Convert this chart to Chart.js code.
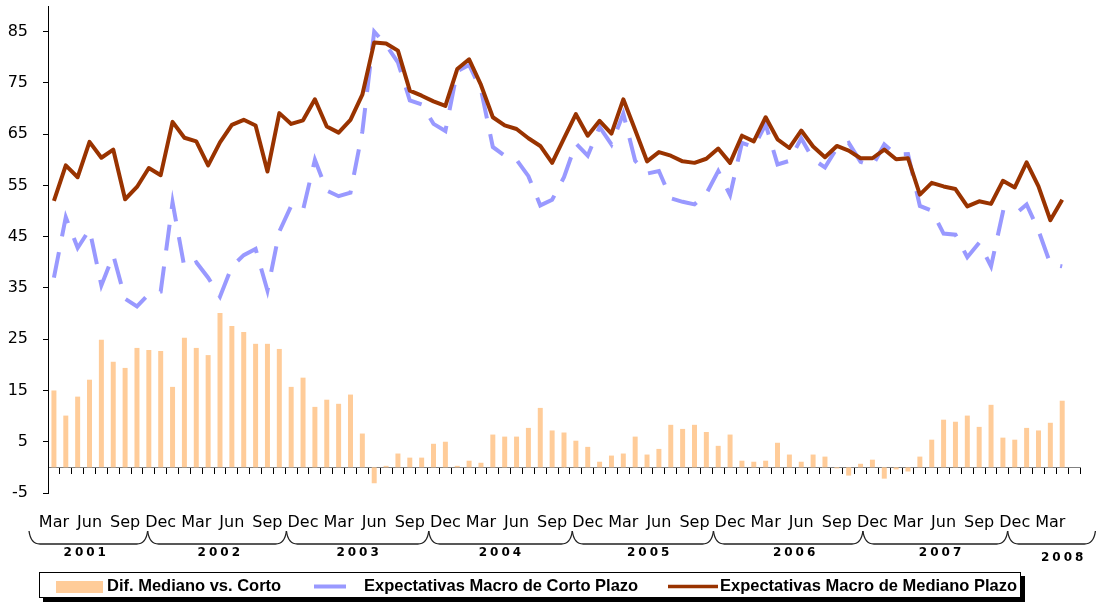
<!DOCTYPE html>
<html>
<head>
<meta charset="utf-8">
<script src="https://cdn.jsdelivr.net/npm/chart.js@4/dist/chart.umd.min.js"></script>
<style>
    html, body { margin: 0; padding: 0; background: #ffffff; }
    #wrap { width: 1096px; height: 603px; position: relative; }
</style>
</head>
<body>
<div id="wrap"><canvas id="myChart"></canvas></div>
<script>
const months = [
    'Mar 2001', 'Apr 2001', 'May 2001', 'Jun 2001', 'Jul 2001', 'Aug 2001', 'Sep 2001', 'Oct 2001', 'Nov 2001', 'Dec 2001',
    'Jan 2002', 'Feb 2002', 'Mar 2002', 'Apr 2002', 'May 2002', 'Jun 2002', 'Jul 2002', 'Aug 2002', 'Sep 2002', 'Oct 2002', 'Nov 2002', 'Dec 2002',
    'Jan 2003', 'Feb 2003', 'Mar 2003', 'Apr 2003', 'May 2003', 'Jun 2003', 'Jul 2003', 'Aug 2003', 'Sep 2003', 'Oct 2003', 'Nov 2003', 'Dec 2003',
    'Jan 2004', 'Feb 2004', 'Mar 2004', 'Apr 2004', 'May 2004', 'Jun 2004', 'Jul 2004', 'Aug 2004', 'Sep 2004', 'Oct 2004', 'Nov 2004', 'Dec 2004',
    'Jan 2005', 'Feb 2005', 'Mar 2005', 'Apr 2005', 'May 2005', 'Jun 2005', 'Jul 2005', 'Aug 2005', 'Sep 2005', 'Oct 2005', 'Nov 2005', 'Dec 2005',
    'Jan 2006', 'Feb 2006', 'Mar 2006', 'Apr 2006', 'May 2006', 'Jun 2006', 'Jul 2006', 'Aug 2006', 'Sep 2006', 'Oct 2006', 'Nov 2006', 'Dec 2006',
    'Jan 2007', 'Feb 2007', 'Mar 2007', 'Apr 2007', 'May 2007', 'Jun 2007', 'Jul 2007', 'Aug 2007', 'Sep 2007', 'Oct 2007', 'Nov 2007', 'Dec 2007',
    'Jan 2008', 'Feb 2008', 'Mar 2008', 'Apr 2008', 'May 2008'
];
// one label every third month
const tickLabels = [
    'Mar', 'Jun', 'Sep',
    'Dec', 'Mar', 'Jun', 'Sep',
    'Dec', 'Mar', 'Jun', 'Sep',
    'Dec', 'Mar', 'Jun', 'Sep',
    'Dec', 'Mar', 'Jun', 'Sep',
    'Dec', 'Mar', 'Jun', 'Sep',
    'Dec', 'Mar', 'Jun', 'Sep',
    'Dec', 'Mar'
];
const years = ['2001', '2002', '2003', '2004', '2005', '2006', '2007', '2008'];
const yTicks = [-5, 5, 15, 25, 35, 45, 55, 65, 75, 85];

const difMedianoCorto = [
    15.0, 10.1, 13.8, 17.1, 24.9, 20.6, 19.4, 23.3, 22.9, 22.7,
    15.7, 25.3, 23.3, 21.9, 30.1, 27.6, 26.4, 24.1, 24.1, 23.1,
    15.7, 17.5, 11.8, 13.2, 12.4, 14.2, 6.6, -3.1, 0.3, 2.7,
    1.9, 1.9, 4.6, 5.0, 0.3, 1.3, 0.9, 6.4, 6.0, 6.0,
    7.7, 11.6, 7.2, 6.8, 5.2, 4.0, 1.1, 2.3, 2.7, 6.0,
    2.5, 3.6, 8.3, 7.5, 8.3, 6.9, 4.2, 6.4, 1.3, 1.1,
    1.3, 4.8, 2.5, 1.1, 2.5, 2.1, -0.2, -1.6, 0.7, 1.5,
    -2.2, -0.4, -0.8, 2.1, 5.4, 9.3, 8.9, 10.1, 7.9, 12.2,
    5.8, 5.4, 7.7, 7.2, 8.7, 13.0
];
const cortoPlazo = [
    37.0, 48.8, 42.8, 46.4, 35.5, 41.4, 32.9, 31.4, 33.8, 34.3,
    51.7, 39.0, 40.0, 37.0, 33.3, 39.2, 41.4, 42.6, 34.5, 46.0,
    51.0, 50.2, 60.0, 54.0, 52.9, 53.6, 65.5, 85.0, 82.4, 79.0,
    71.6, 70.8, 67.0, 65.6, 77.3, 78.5, 73.7, 62.5, 60.8, 60.0,
    56.8, 51.1, 52.2, 56.6, 63.2, 60.8, 66.4, 63.0, 69.0, 59.8,
    57.3, 57.8, 52.5, 51.8, 51.3, 53.4, 57.8, 53.1, 63.3, 62.5,
    66.9, 59.1, 59.8, 64.2, 60.1, 58.5, 62.3, 63.3, 59.6, 58.8,
    63.0, 61.0, 61.1, 51.0, 50.1, 45.6, 45.4, 41.0, 43.8, 39.2,
    49.8, 49.3, 51.3, 46.2, 39.7, 39.2
];
const medianoPlazo = [
    52.0, 58.9, 56.6, 63.5, 60.4, 62.0, 52.3, 54.7, 58.4, 57.0,
    67.4, 64.3, 63.6, 58.9, 63.4, 66.8, 67.8, 66.7, 57.7, 69.1,
    67.0, 67.7, 71.8, 66.5, 65.3, 67.8, 72.7, 82.9, 82.7, 81.3,
    73.5, 72.5, 71.4, 70.5, 77.7, 79.6, 74.6, 68.3, 66.7, 66.0,
    64.2, 62.7, 59.4, 64.2, 68.9, 64.7, 67.6, 65.1, 71.8, 65.8,
    59.7, 61.5, 60.8, 59.7, 59.4, 60.2, 62.2, 59.4, 64.7, 63.6,
    68.3, 64.0, 62.3, 65.7, 62.6, 60.5, 62.7, 61.8, 60.3, 60.3,
    62.0, 60.1, 60.3, 53.2, 55.5, 54.8, 54.3, 50.9, 51.9, 51.4,
    55.9, 54.6, 59.5, 54.8, 48.2, 52.2
];

Chart.defaults.font.family = '"DejaVu Sans", sans-serif';
Chart.defaults.color = '#000000';

// year braces under the month labels
const yearBraces = {
    id: 'yearBraces',
    afterDraw(chart) {
        const ctx = chart.ctx;
        const xs = chart.scales.x;
        const edges = [-2.1, 7.9, 19.6, 31.6, 43.7, 55.6, 68.2, 80.4, 87.8];
        const centers = [2.6, 13.9, 25.6, 37.6, 50.1, 62.4, 74.7, 85.0];
        const top = 531, bot = 544;
        ctx.save();
        ctx.strokeStyle = '#222222';
        ctx.lineWidth = 1.3;
        for (let i = 0; i < years.length; i++) {
            let a = xs.getPixelForValue(edges[i]);
            let b = xs.getPixelForValue(edges[i + 1]);
            ctx.beginPath();
            ctx.moveTo(a, top);
            ctx.bezierCurveTo(a + 1, bot - 5, a + 4, bot, a + 11, bot);
            ctx.lineTo(b - 11, bot);
            ctx.bezierCurveTo(b - 4, bot, b - 1, bot - 5, b, top);
            ctx.stroke();
        }
        ctx.fillStyle = '#000000';
        ctx.font = 'bold 12px "DejaVu Sans"';
        ctx.letterSpacing = '3px';
        ctx.textAlign = 'center';
        ctx.textBaseline = 'middle';
        years.forEach((yr, i) => {
            let cx = xs.getPixelForValue(centers[i]) + 1.5;
            ctx.fillText(yr, cx, i === years.length - 1 ? 558 : 553);
        });
        ctx.restore();
    }
};

// framed legend with drop shadow
const boxLegend = {
    id: 'boxLegend',
    afterDraw(chart) {
        const ctx = chart.ctx;
        const ds = chart.data.datasets;
        const cy = 586.5;
        ctx.save();
        ctx.fillStyle = '#000000';
        ctx.fillRect(43, 576, 982, 26);
        ctx.fillStyle = '#ffffff';
        ctx.fillRect(39, 572, 982, 26);
        ctx.strokeStyle = '#000000';
        ctx.lineWidth = 1;
        ctx.strokeRect(39.5, 572.5, 981, 25);

        ctx.fillStyle = ds[0].backgroundColor;
        ctx.fillRect(56, 581, 47, 12);

        ctx.lineCap = 'butt';
        ctx.strokeStyle = ds[1].borderColor;
        ctx.lineWidth = 4;
        ctx.beginPath();
        ctx.moveTo(314, cy);
        ctx.lineTo(346, cy);
        ctx.stroke();

        ctx.strokeStyle = ds[2].borderColor;
        ctx.lineWidth = 3.5;
        ctx.beginPath();
        ctx.moveTo(668, cy);
        ctx.lineTo(718, cy);
        ctx.stroke();

        ctx.fillStyle = '#000000';
        ctx.font = 'bold 16.5px "Liberation Sans"';
        ctx.textAlign = 'left';
        ctx.textBaseline = 'middle';
        ctx.fillText(ds[0].label, 107, cy);
        ctx.fillText(ds[1].label, 364, cy);
        ctx.fillText(ds[2].label, 720, cy);
        ctx.restore();
    }
};

const chart = new Chart(document.getElementById('myChart'), {
    type: 'bar',
    data: {
        labels: months,
        datasets: [{
            type: 'bar',
            label: 'Dif. Mediano vs. Corto',
            data: difMedianoCorto,
            backgroundColor: '#FFCC99',
            barPercentage: 0.42,
            categoryPercentage: 1,
            order: 2
        }, {
            type: 'line',
            label: 'Expectativas Macro de Corto Plazo',
            data: cortoPlazo,
            borderColor: '#9999FF',
            borderWidth: 4,
            borderDash: [26, 16],
            borderCapStyle: 'butt',
            pointRadius: 0,
            tension: 0,
            order: 1
        }, {
            type: 'line',
            label: 'Expectativas Macro de Mediano Plazo',
            data: medianoPlazo,
            borderColor: '#993300',
            borderWidth: 4,
            borderJoinStyle: 'round',
            pointRadius: 0,
            tension: 0,
            order: 0
        }]
    },
    options: {
        animation: false,
        responsive: true,
        maintainAspectRatio: false,
        layout: { padding: { top: 6, right: 16, bottom: 0, left: 0 } },
        plugins: {
            legend: { display: false },
            tooltip: { enabled: false }
        },
        scales: {
            x: {
                position: 'bottom',
                offset: true,
                grid: { display: false, drawTicks: false },
                border: { display: false },
                ticks: {
                    autoSkip: false,
                    maxRotation: 0,
                    padding: 20,
                    font: { size: 16 },
                    callback: (v, i) => (i % 3 === 0 ? tickLabels[i / 3] : '')
                },
                afterFit: (s) => { s.height = 110; }
            },
            x0: {
                type: 'category',
                position: { y: 0 },
                offset: true,
                z: 1,
                grid: { offset: true, drawOnChartArea: false, tickLength: 6, color: '#000000' },
                border: { color: '#808080' },
                ticks: { display: false },
                afterFit: (s) => { s.height = 0; }
            },
            y: {
                min: -5,
                max: 90,
                afterBuildTicks: (s) => { s.ticks = yTicks.map((v) => ({ value: v })); },
                grid: { drawOnChartArea: false, tickLength: 5, color: '#000000' },
                border: { color: '#000000' },
                ticks: { padding: 15, font: { size: 16 } },
                afterFit: (s) => {
                    s.width = 48;
                    s.paddingTop = 0;
                    s.paddingBottom = 0;
                }
            }
        }
    },
    plugins: [yearBraces, boxLegend]
});
</script>
</body>
</html>
